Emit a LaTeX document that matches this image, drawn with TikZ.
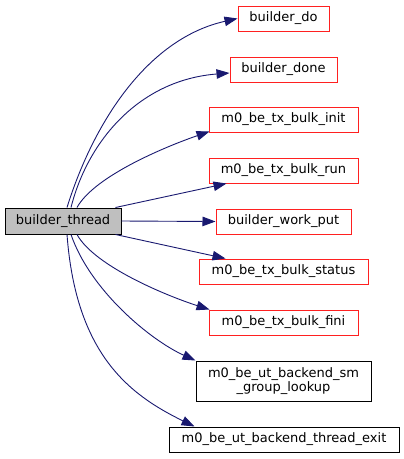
\documentclass[tikz,border=0pt]{standalone}
\usepackage{fontspec}
\setmainfont{DejaVu Sans}
\usetikzlibrary{arrows.meta}
\definecolor{edgeblue}{HTML}{191970}
\definecolor{redline}{HTML}{FF2020}
\definecolor{thrfill}{HTML}{BFBFBF}
\tikzset{
  box/.style={draw, fill=white, line width=1pt, inner sep=0pt, minimum height=25pt,
    font=\fontsize{13}{14}\selectfont, align=center},
  redbox/.style={box, draw=redline},
  blackbox/.style={box, draw=black},
  conn/.style={draw=edgeblue, line width=0.9pt,
    -{Triangle[length=13pt,width=9.5pt,fill=edgeblue,color=edgeblue]}},
}
\begin{document}
\begin{tikzpicture}[x=1pt,y=-1pt]
\useasboundingbox (0,0) rectangle (404,459);
\node[box, draw=black, fill=thrfill, minimum width=116pt, minimum height=26pt] (thr) at (63,221) {builder\_thread};
\node[redbox, minimum width=91pt] (do) at (283.5,18.5) {builder\_do};
\node[redbox, minimum width=107pt] (done) at (283.5,69.5) {builder\_done};
\node[redbox, minimum width=149pt] (init) at (283.5,119.5) {m0\_be\_tx\_bulk\_init};
\node[redbox, minimum width=149pt] (run) at (283.5,170.5) {m0\_be\_tx\_bulk\_run};
\node[redbox, minimum width=135pt] (put) at (283.5,221.5) {builder\_work\_put};
\node[redbox, minimum width=169pt] (status) at (283.5,271.5) {m0\_be\_tx\_bulk\_status};
\node[redbox, minimum width=149pt] (fini) at (283.5,322.5) {m0\_be\_tx\_bulk\_fini};
\node[blackbox, minimum width=175pt, minimum height=40pt] (lookup) at (283.5,381) {m0\_be\_ut\_backend\_sm\\\_group\_lookup};
\node[blackbox, minimum width=230pt] (exit) at (284,439.5) {m0\_be\_ut\_backend\_thread\_exit};

\draw[conn] ([xshift=4pt]thr.north) .. controls (95,118) and (150,38) .. (do.west);
\draw[conn] ([xshift=8pt]thr.north) .. controls (88,140) and (140,80) .. ([yshift=-3.5pt]done.west);
\draw[conn] ([xshift=14pt]thr.north) .. controls (95,175) and (170,145) .. ([xshift=1pt,yshift=1pt]init.south west);
\draw[conn] ([xshift=-6pt]thr.north east) -- ([xshift=18pt]run.south west);
\draw[conn] (thr.east) -- (put.west);
\draw[conn] ([xshift=-6pt]thr.south east) -- ([xshift=27pt]status.north west);
\draw[conn] ([xshift=14pt]thr.south) .. controls (95,267) and (170,297) .. ([xshift=1pt]fini.north west);
\draw[conn] ([xshift=8pt]thr.south) .. controls (90,290) and (150,340) .. (lookup.north west);
\draw[conn] ([xshift=4pt]thr.south) .. controls (76,355) and (130,395) .. ([xshift=26pt]exit.north west);
\end{tikzpicture}
\end{document}
